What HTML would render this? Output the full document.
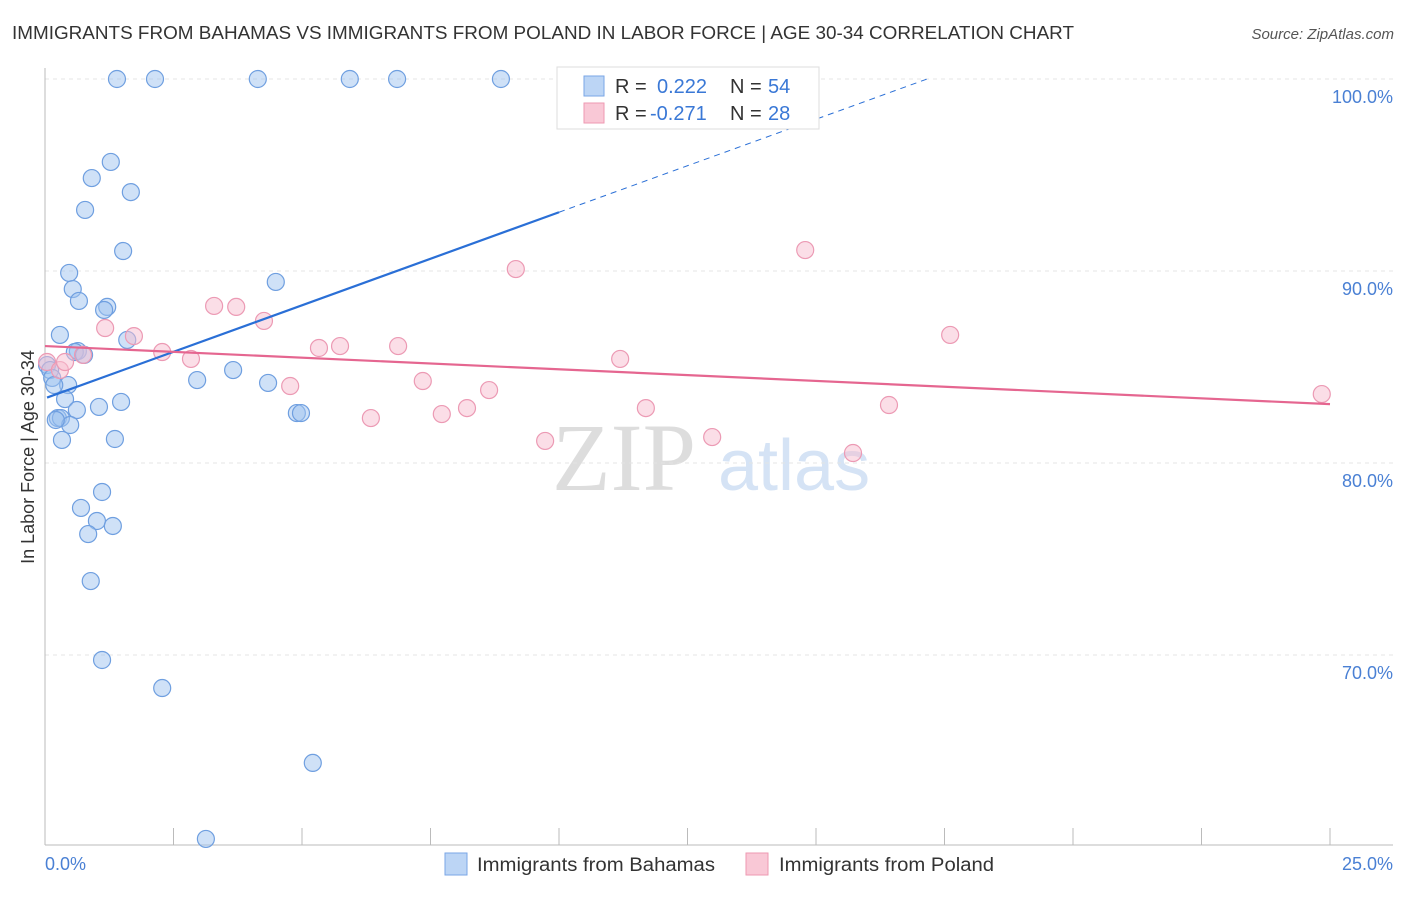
<!DOCTYPE html>
<html><head><meta charset="utf-8"><style>
body{margin:0;background:#fff;font-family:"Liberation Sans",sans-serif}
svg text{font-family:"Liberation Sans",sans-serif}
</style></head><body>
<svg id="c" width="1406" height="892" xmlns="http://www.w3.org/2000/svg">
<text x="12" y="39" font-size="18.5" fill="#333" textLength="1062" lengthAdjust="spacingAndGlyphs">IMMIGRANTS FROM BAHAMAS VS IMMIGRANTS FROM POLAND IN LABOR FORCE | AGE 30-34 CORRELATION CHART</text>
<text x="1394" y="39" font-size="15" fill="#555" text-anchor="end" font-style="italic">Source: ZipAtlas.com</text>
<text transform="translate(34,457) rotate(-90)" font-size="18" fill="#333" text-anchor="middle">In Labor Force | Age 30-34</text>
<g><text x="552" y="490" font-size="96" fill="#ddd" font-family="Liberation Serif" style="font-family:'Liberation Serif',serif">ZIP</text><text x="718" y="490" font-size="72" fill="#d5e3f5">atlas</text></g>
<g id="grid"></g><g id="marks"></g>
<g>
<rect x="557" y="67" width="262" height="62" fill="#fff" stroke="#ddd"/>
<rect x="584" y="76" width="20" height="20" fill="#bcd5f5" stroke="#7aa6e6"/>
<rect x="584" y="103" width="20" height="20" fill="#f9c8d6" stroke="#ee99b2"/>
<text x="615" y="93" font-size="20" fill="#333">R = <tspan x="657" fill="#3a78d6">0.222</tspan><tspan x="730">N = </tspan><tspan x="768" fill="#3a78d6">54</tspan></text>
<text x="615" y="120" font-size="20" fill="#333">R = <tspan x="650" fill="#3a78d6">-0.271</tspan><tspan x="730">N = </tspan><tspan x="768" fill="#3a78d6">28</tspan></text>
</g>
<g>
<rect x="445" y="853" width="22" height="22" fill="#bcd5f5" stroke="#7aa6e6"/>
<text x="477" y="871" font-size="19.6" fill="#333" textLength="238" lengthAdjust="spacingAndGlyphs">Immigrants from Bahamas</text>
<rect x="746" y="853" width="22" height="22" fill="#f9c8d6" stroke="#ee99b2"/>
<text x="779" y="871" font-size="19.6" fill="#333" textLength="215" lengthAdjust="spacingAndGlyphs">Immigrants from Poland</text>
</g>
</svg>
<script>
const yTicks=[100,90,80,70];
const yTickLabels=["100.0%","90.0%","80.0%","70.0%"];
const xTicks=[0,2.5,5,7.5,10,12.5,15,17.5,20,22.5,25];
const bahamasX=[1.40,2.14,4.14,5.93,6.85,8.87,1.28,0.91,1.67,0.78,1.52,0.47,4.49,0.54,0.66,1.21,1.15,1.60,0.29,0.64,0.58,0.76,0.04,0.10,0.14,0.45,0.18,2.96,3.66,4.34,0.39,1.48,0.62,1.05,0.25,0.31,0.49,0.21,4.90,4.98,0.33,1.36,1.11,0.70,1.01,1.32,0.84,0.89,1.11,2.28,5.21,3.13];
const bahamasY=[100,100,100,100,100,100,95.68,94.84,94.11,93.18,91.04,89.90,89.43,89.06,88.44,88.13,87.97,86.41,86.67,85.83,85.78,85.63,85.10,84.84,84.43,84.06,84.06,84.32,84.84,84.17,83.33,83.18,82.76,82.92,82.34,82.34,81.98,82.24,82.60,82.60,81.20,81.25,78.49,77.66,76.98,76.72,76.30,73.85,69.74,68.28,64.38,60.42];
const polandX=[0.04,0.29,0.39,0.74,1.17,1.73,2.28,2.84,3.29,3.72,4.26,4.77,5.33,5.74,6.34,6.87,7.35,7.72,8.21,8.64,9.16,9.73,11.19,11.69,12.98,14.79,15.72,16.42,17.61,24.84];
const polandY=[85.26,84.84,85.26,85.63,87.03,86.61,85.78,85.42,88.18,88.13,87.40,84.01,85.99,86.09,82.34,86.09,84.27,82.55,82.86,83.80,90.10,81.15,85.42,82.86,81.35,91.09,80.52,83.02,86.67,83.59];
const bahamasTrend=[83.37,0.969]; // intercept, slope
const polandTrend=[86.09,-0.121];
const X=v=>45+v*51.4, Y=v=>79+(100-v)*19.2;
const NS="http://www.w3.org/2000/svg";
function mk(t,a,p){const e=document.createElementNS(NS,t);for(const k in a)e.setAttribute(k,a[k]);p.appendChild(e);return e;}
const g=document.getElementById('grid'), m=document.getElementById('marks');
yTicks.forEach((v,i)=>{
 const l=mk('line',{x1:45,x2:1393,y1:Y(v),y2:Y(v),stroke:'#e4e4e4','stroke-dasharray':'4,4'},g);
 
 
 const t=mk('text',{x:1393,y:Y(v)+24,'font-size':18,fill:'#4a80d4','text-anchor':'end'},g);t.textContent=yTickLabels[i];
 
 
});
const ax=mk('line',{x1:45,x2:45,y1:68,y2:845,stroke:'#bbb'},g);


const bx=mk('line',{x1:45,x2:1393,y1:845,y2:845,stroke:'#bbb'},g);


xTicks.forEach(v=>{const l=mk('line',{x1:X(v),x2:X(v),y1:828,y2:845,stroke:'#bbb'},g);
 
 });
const t0=mk('text',{x:45,y:870,'font-size':18,fill:'#4a80d4'},g);t0.textContent="0.0%";


const t1=mk('text',{x:1393,y:870,'font-size':18,fill:'#4a80d4','text-anchor':'end'},g);t1.textContent="25.0%";


bahamasX.forEach((x,i)=>{const c=mk('circle',{cx:X(x),cy:Y(bahamasY[i]),r:8.5,fill:'rgba(160,196,240,0.5)',stroke:'#6f9fe0','stroke-width':1.2},m);
 
 });
polandX.forEach((x,i)=>{const c=mk('circle',{cx:X(x),cy:Y(polandY[i]),r:8.5,fill:'rgba(248,190,208,0.5)',stroke:'#ec9ab4','stroke-width':1.2},m);
 
 });
const bt=v=>bahamasTrend[0]+bahamasTrend[1]*v, pt=v=>polandTrend[0]+polandTrend[1]*v;
const l1=mk('line',{x1:X(0.04),y1:Y(bt(0.04)),x2:X(10),y2:Y(bt(10)),stroke:'#2a6fd6','stroke-width':2.2},m);


const xe=(100-bahamasTrend[0])/bahamasTrend[1];
const l2=mk('line',{x1:X(10),y1:Y(bt(10)),x2:X(xe),y2:Y(100),stroke:'#2a6fd6','stroke-width':1,'stroke-dasharray':'6,5'},m);


const l3=mk('line',{x1:X(0),y1:Y(pt(0)),x2:X(25),y2:Y(pt(25)),stroke:'#e56690','stroke-width':2.2},m);


</script>
</body></html>
